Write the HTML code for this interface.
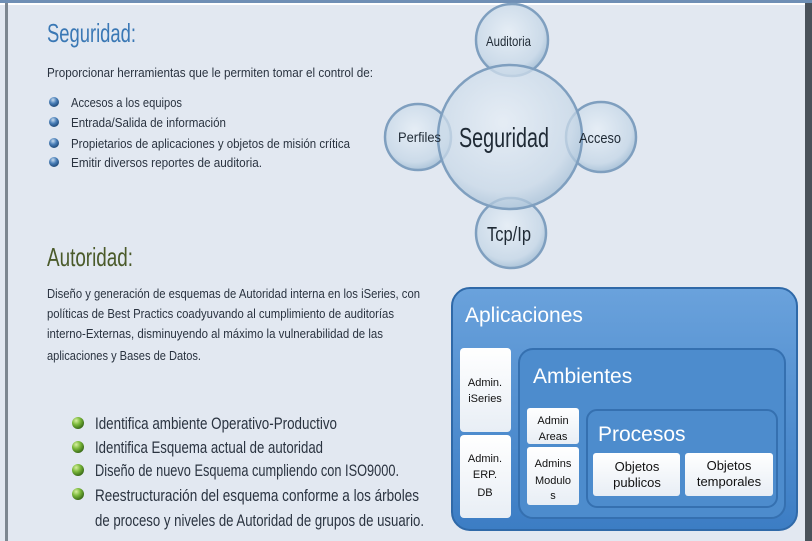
<!DOCTYPE html>
<html><head><meta charset="utf-8"><style>body{margin:0;background:#e2e8f1}svg{display:block}</style></head>
<body>
<svg width="812" height="541" viewBox="0 0 812 541" xmlns="http://www.w3.org/2000/svg" font-family="'Liberation Sans Narrow','Liberation Sans',sans-serif">
<defs>
<radialGradient id="bub" cx="45%" cy="40%" r="60%"><stop offset="0" stop-color="#e6eef6"/><stop offset="0.8" stop-color="#c9d9e8"/><stop offset="1" stop-color="#a9c2d8"/></radialGradient>
<radialGradient id="gb" cx="35%" cy="30%" r="70%"><stop offset="0" stop-color="#d8f0a0"/><stop offset="0.5" stop-color="#7ab83a"/><stop offset="1" stop-color="#3d6e1a"/></radialGradient>
<radialGradient id="bb" cx="40%" cy="30%" r="70%"><stop offset="0" stop-color="#c8dcf0"/><stop offset="0.5" stop-color="#4a7fb8"/><stop offset="1" stop-color="#1f4a7a"/></radialGradient>
<linearGradient id="box" x1="0" y1="0" x2="0" y2="1"><stop offset="0" stop-color="#6aa2dc"/><stop offset="1" stop-color="#3c7dc4"/></linearGradient>
<linearGradient id="wb" x1="0" y1="0" x2="0" y2="1"><stop offset="0" stop-color="#ffffff"/><stop offset="1" stop-color="#e8eef5"/></linearGradient>
</defs>
<rect width="812" height="541" fill="#e2e8f1"/>
<rect x="0" y="0" width="812" height="3" fill="#6f8fb5"/>
<rect x="0" y="3" width="812" height="2" fill="#ffffff"/>
<rect x="5" y="3" width="3" height="538" fill="#7d8791"/>
<rect x="805" y="3" width="7" height="538" fill="#4a525a"/>

<text x="47" y="42" font-size="26" fill="#3a78b5" textLength="89" lengthAdjust="spacingAndGlyphs">Seguridad:</text>
<text x="47" y="77" font-size="13" fill="#2a3340" textLength="326" lengthAdjust="spacingAndGlyphs">Proporcionar herramientas que le permiten tomar el control de:</text>
<g fill="url(#bb)"><circle cx="54" cy="102" r="5"/><circle cx="54" cy="122" r="5"/><circle cx="54" cy="143" r="5"/><circle cx="54" cy="162" r="5"/></g>
<g font-size="13" fill="#2a3340">
<text x="71" y="107" textLength="111" lengthAdjust="spacingAndGlyphs">Accesos a los equipos</text>
<text x="71" y="127" textLength="155" lengthAdjust="spacingAndGlyphs">Entrada/Salida de información</text>
<text x="71" y="148" textLength="279" lengthAdjust="spacingAndGlyphs">Propietarios de aplicaciones y objetos de misión crítica</text>
<text x="71" y="167" textLength="191" lengthAdjust="spacingAndGlyphs">Emitir diversos reportes de auditoria.</text>
</g>

<g stroke="#7f9fbf" stroke-width="2.5" fill="url(#bub)" fill-opacity="0.9">
<circle cx="512" cy="40" r="36"/>
<circle cx="418" cy="137" r="33"/>
<circle cx="601" cy="137" r="35"/>
<circle cx="511" cy="233" r="35"/>
<circle cx="510" cy="137" r="72" fill-opacity="0.75"/>
</g>
<g fill="#1f2a35">
<text x="486" y="46" font-size="14" textLength="45" lengthAdjust="spacingAndGlyphs">Auditoria</text>
<text x="398" y="142" font-size="14" textLength="43" lengthAdjust="spacingAndGlyphs">Perfiles</text>
<text x="579" y="143" font-size="15" textLength="42" lengthAdjust="spacingAndGlyphs">Acceso</text>
<text x="487" y="241" font-size="20" textLength="44" lengthAdjust="spacingAndGlyphs">Tcp/Ip</text>
<text x="459" y="147" font-size="28" textLength="90" lengthAdjust="spacingAndGlyphs">Seguridad</text>
</g>

<text x="47" y="266" font-size="26" fill="#4a5a2a" textLength="86" lengthAdjust="spacingAndGlyphs">Autoridad:</text>
<g font-size="13" fill="#2a3340">
<text x="47" y="298" textLength="373" lengthAdjust="spacingAndGlyphs">Diseño y generación de esquemas de Autoridad interna en los iSeries, con</text>
<text x="47" y="318" textLength="347" lengthAdjust="spacingAndGlyphs">políticas de Best Practics coadyuvando al cumplimiento de auditorías</text>
<text x="47" y="338" textLength="336" lengthAdjust="spacingAndGlyphs">interno-Externas,  disminuyendo al máximo la vulnerabilidad de las</text>
<text x="47" y="360" textLength="154" lengthAdjust="spacingAndGlyphs">aplicaciones y Bases de Datos.</text>
</g>
<g fill="url(#gb)"><circle cx="78" cy="423" r="6"/><circle cx="78" cy="447" r="6"/><circle cx="78" cy="470" r="6"/><circle cx="78" cy="494" r="6"/></g>
<g font-size="17" fill="#2a3340">
<text x="95" y="429" textLength="242" lengthAdjust="spacingAndGlyphs">Identifica ambiente Operativo-Productivo</text>
<text x="95" y="453" textLength="228" lengthAdjust="spacingAndGlyphs">Identifica Esquema actual de autoridad</text>
<text x="95" y="476" textLength="304" lengthAdjust="spacingAndGlyphs">Diseño de nuevo Esquema cumpliendo con ISO9000.</text>
<text x="95" y="501" textLength="324" lengthAdjust="spacingAndGlyphs">Reestructuración  del esquema conforme a los árboles</text>
<text x="95" y="526" textLength="329" lengthAdjust="spacingAndGlyphs">de proceso y niveles de Autoridad de grupos de usuario.</text>
</g>

<rect x="452" y="288" width="345" height="242" rx="18" fill="url(#box)" stroke="#2f69a8" stroke-width="2"/>
<text x="465" y="322" font-family="'Liberation Sans',sans-serif" font-size="21" fill="#fff">Aplicaciones</text>
<rect x="460" y="348" width="51" height="84" rx="4" fill="url(#wb)"/>
<rect x="460" y="435" width="51" height="83" rx="4" fill="url(#wb)"/>
<rect x="519" y="349" width="266" height="169" rx="14" fill="#4d8ccd" stroke="#3570b0" stroke-width="2"/>
<text x="533" y="383" font-family="'Liberation Sans',sans-serif" font-size="21" fill="#fff">Ambientes</text>
<rect x="527" y="408" width="52" height="36" rx="3" fill="url(#wb)"/>
<rect x="527" y="447" width="52" height="58" rx="3" fill="url(#wb)"/>
<rect x="587" y="410" width="190" height="97" rx="10" fill="#4d8ccd" stroke="#3570b0" stroke-width="2"/>
<text x="598" y="441" font-family="'Liberation Sans',sans-serif" font-size="21" fill="#fff">Procesos</text>
<rect x="593" y="453" width="87" height="43" rx="3" fill="url(#wb)"/>
<rect x="685" y="453" width="88" height="43" rx="3" fill="url(#wb)"/>
<g font-family="'Liberation Sans',sans-serif" fill="#111" text-anchor="middle" font-size="11">
<text x="485" y="386">Admin.</text><text x="485" y="402">iSeries</text>
<text x="485" y="462">Admin.</text><text x="485" y="478">ERP.</text><text x="485" y="496">DB</text>
<text x="553" y="424">Admin</text><text x="553" y="440">Areas</text>
<text x="553" y="467">Admins</text><text x="553" y="484">Modulo</text><text x="553" y="499">s</text>
<text x="637" y="471" font-size="13">Objetos</text><text x="637" y="487" font-size="13">publicos</text>
<text x="729" y="470" font-size="13">Objetos</text><text x="729" y="486" font-size="13">temporales</text>
</g>
</svg>
</body></html>
